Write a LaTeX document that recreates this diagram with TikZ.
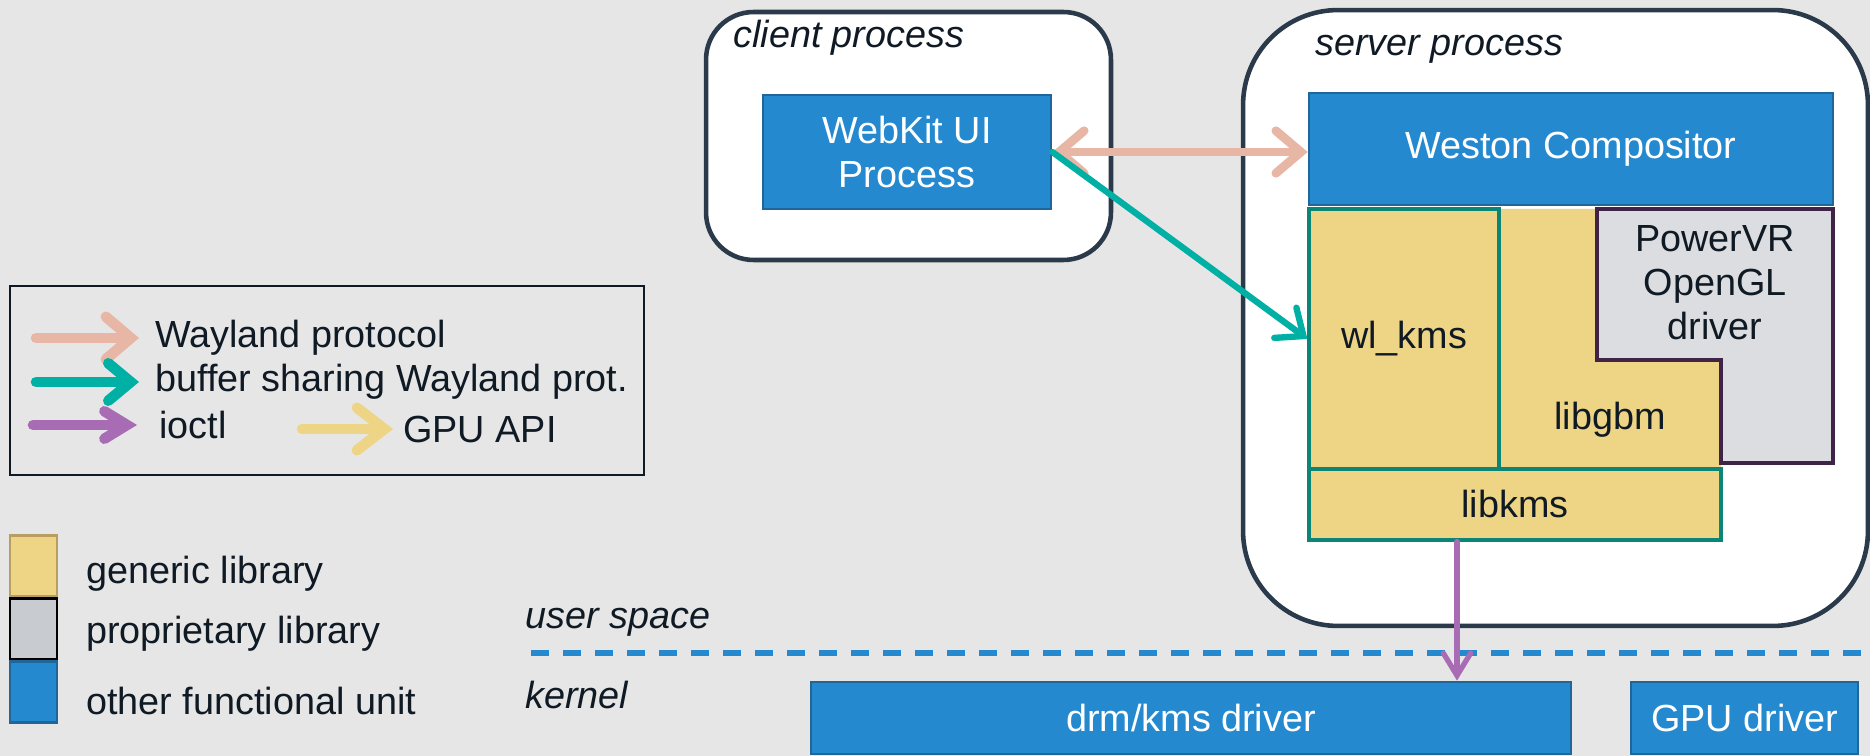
\documentclass[tikz,border=0pt]{standalone}
\usepackage{fontspec}
\setmainfont{Liberation Sans}
\usepackage{xcolor}
\usetikzlibrary{shapes,arrows.meta,positioning,fit,calc}

\definecolor{bggray}{HTML}{E6E6E6}
\definecolor{ink}{HTML}{0F1A24}
\definecolor{procedge}{HTML}{2B3A4A}
\definecolor{unitblue}{HTML}{2589D0}
\definecolor{unitedge}{HTML}{1F669A}
\definecolor{libyellow}{HTML}{EED485}
\definecolor{libedge}{HTML}{0A8576}
\definecolor{propgray}{HTML}{DCDDE0}
\definecolor{propedge}{HTML}{3F2447}
\definecolor{waypink}{HTML}{E8B6A4}
\definecolor{bufteal}{HTML}{00B0A4}
\definecolor{ioctlpurple}{HTML}{A86CB5}
\definecolor{genedge}{HTML}{B89E60}
\definecolor{sqgray}{HTML}{C8CCD0}

\begin{document}
\begin{tikzpicture}[
    x=0.02cm, y=-0.02cm,
    every node/.style={font=\fontsize{21.5}{25}\selectfont, text=ink},
    proc/.style={draw=procedge, fill=white, line width=2.6pt},
    unit/.style={draw=unitedge, fill=unitblue, line width=1.6pt, text=white, align=center, inner sep=0},
    genlib/.style={draw=libedge, fill=libyellow, line width=1.8pt, align=center, inner sep=0},
    lbl/.style={anchor=west, inner sep=0},
    itlbl/.style={lbl, font=\fontsize{21.5}{25}\selectfont\itshape},
    wayarr/.style={draw=waypink, line width=5pt, line cap=round, >={Straight Barb[length=0.5cm,width=0.85cm,line cap=round]}},
    bufarr/.style={draw=bufteal, line width=3.6pt, line cap=round, >={Straight Barb[length=0.45cm,width=0.75cm,line cap=round]}},
    ioctlarr/.style={draw=ioctlpurple, line width=3pt, line cap=round, >={Straight Barb[length=0.45cm,width=0.55cm,line cap=round]}},
    gpuarr/.style={draw=libyellow, line width=6pt, line cap=round, >={Straight Barb[length=0.55cm,width=0.85cm,line cap=round]}},
    sepline/.style={draw=unitblue, line width=3pt, dash pattern=on 0.36cm off 0.28cm}
  ]
    \useasboundingbox (0,0) rectangle (1870,756);
    \fill[bggray] (0,0) rectangle (1870,756);

    % processes
    \node[proc, rounded corners=0.95cm, minimum width=8.1cm, minimum height=4.96cm] (client) at (908.5,136) {};
    \node[proc, rounded corners=1.9cm, minimum width=12.5cm, minimum height=12.32cm] (server) at (1555.5,318) {};
    \node[itlbl] (clientlbl) at (733,38) {client process};
    \node[itlbl] (serverlbl) at (1315,49) {server process};

    \node[unit, minimum width=5.76cm, minimum height=2.28cm] (webkit) at (907,152) {WebKit UI\\Process};
    \node[unit, minimum width=10.48cm, minimum height=2.24cm] (weston) at (1571,149) {Weston Compositor};

    % libraries
    \fill[libyellow] (1499,209) -- (1597,209) -- (1597,360) -- (1721,360) -- (1721,469) -- (1499,469) -- cycle;
    \draw[propedge, fill=propgray, line width=2.2pt] (1597,209) -- (1833,209) -- (1833,463) -- (1721,463) -- (1721,360) -- (1597,360) -- cycle;
    \node[align=center] (powervr) at (1715,283) {PowerVR\\OpenGL\\driver};
    \node (libgbm) at (1610,420) {libgbm};
    \node[genlib, minimum width=3.8cm, minimum height=5.2cm] (wlkms) at (1404,339) {wl\_kms};
    \node[genlib, minimum width=8.24cm, minimum height=1.42cm] (libkms) at (1515,504.5) {libkms};

    % kernel
    \draw[sepline] (531,653) -- (1870,653);
    \node[itlbl] (userlbl) at (525,622) {user space};
    \node[itlbl] (kernlbl) at (525,695) {kernel};
    \node[unit, minimum width=15.2cm, minimum height=1.44cm] (drm) at (1191,718) {drm/kms driver};
    \node[unit, minimum width=4.54cm, minimum height=1.44cm] (gpu) at (1744.5,718) {GPU driver};

    % connections
    \draw[wayarr, <->] (webkit.east) -- (webkit.east -| weston.west);
    \draw[bufarr, ->] (webkit.east) -- (wlkms.west);
    \draw[ioctlarr, ->] ($(libkms.south)+(-58,0)$) -- ($(libkms.south |- drm.north)+(-58,0)$);

    % legend
    \node[draw=ink, line width=1.4pt, minimum width=12.68cm, minimum height=3.78cm] (legend) at (327,380.5) {};
    \node[lbl] (lway) at (155,338) {Wayland protocol};
    \node[lbl] (lbuf) at (155,382) {buffer sharing Wayland prot.};
    \node[lbl] (lioctl) at (159,425) {ioctl};
    \node[lbl] (lgpu) at (403,429) {GPU API};
    \draw[wayarr, line width=6pt, ->] ($(lway.west)+(-119,0)$) -- ($(lway.west)+(-16,0)$);
    \draw[bufarr, line width=6pt, ->] ($(lbuf.west)+(-119,0)$) -- ($(lbuf.west)+(-16,0)$);
    \draw[ioctlarr, line width=6pt, ->] ($(lioctl.west)+(-126,0)$) -- ($(lioctl.west)+(-22,0)$);
    \draw[gpuarr, ->] ($(lgpu.west)+(-101,0)$) -- ($(lgpu.west)+(-10,0)$);

    \node[draw=genedge, fill=libyellow, line width=1.6pt, minimum width=0.94cm, minimum height=1.22cm] (sqgen) at (33.5,566) {};
    \node[draw=black, fill=sqgray, line width=1.6pt, minimum width=0.94cm, minimum height=1.22cm] (sqprop) at (33.5,629) {};
    \node[draw=unitedge, fill=unitblue, line width=1.6pt, minimum width=0.94cm, minimum height=1.22cm] (squnit) at (33.5,692) {};
    \node[lbl] (lgen) at (86,574) {generic library};
    \node[lbl] (lprop) at (86,634) {proprietary library};
    \node[lbl] (lunit) at (86,701) {other functional unit};
  \end{tikzpicture}
\end{document}
